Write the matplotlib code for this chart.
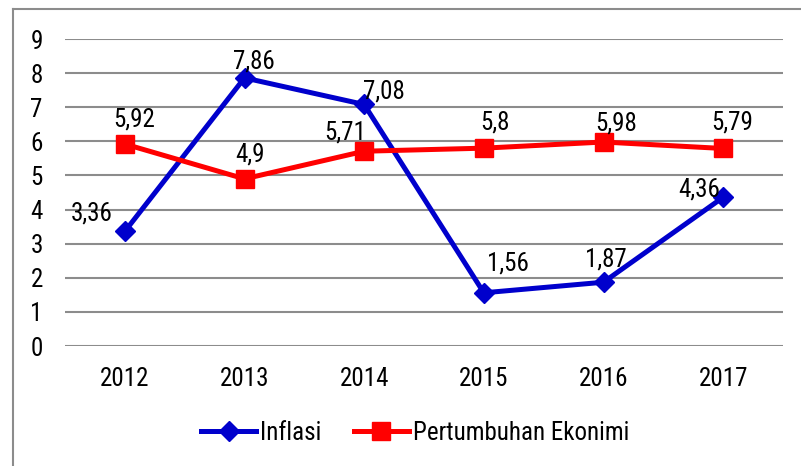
import matplotlib.pyplot as plt
from matplotlib.lines import Line2D
from matplotlib import font_manager

years = ["2012", "2013", "2014", "2015", "2016", "2017"]
inflasi = [3.36, 7.86, 7.08, 1.56, 1.87, 4.36]
pertumbuhan = [5.92, 4.90, 5.71, 5.80, 5.98, 5.79]
inflasi_labels = ["3,36", "7,86", "7,08", "1,56", "1,87", "4,36"]
pertumbuhan_labels = ["5,92", "4,9", "5,71", "5,8", "5,98", "5,79"]

# label offsets in points (dx, dy) relative to each marker
inflasi_off = [(-24, 13), (6.5, 11.5), (14, 9), (17, 21), (1.5, 16.5), (-17, 5.5)]
pertumbuhan_off = [(7, 17.5), (4, 17.5), (-14, 13.5), (8, 18.5), (9, 13.5), (6.5, 18.5)]

names = {f.name for f in font_manager.fontManager.ttflist}
family = ["Roboto Condensed", "Archivo Narrow", "Liberation Sans", "DejaVu Sans"]
family = [f for f in family if f in names] or ["DejaVu Sans"]
plt.rcParams["font.family"] = family

BLUE = "#0000CC"
RED = "#FF0000"
FS = 18

fig = plt.figure(figsize=(8.01, 4.66), dpi=100)
ax = fig.add_axes([65 / 801, 1 - 346 / 466, (783 - 65) / 801, (346 - 39) / 466])

x = range(len(years))
ax.plot(x, inflasi, color=BLUE, lw=3.6, marker="D", ms=10, mec=BLUE, mfc=BLUE,
        zorder=3, label="Inflasi")
ax.plot(x, pertumbuhan, color=RED, lw=3.6, marker="s", ms=13, mec=RED, mfc=RED,
        zorder=4, label="Pertumbuhan Ekonimi")

for i, (v, t) in enumerate(zip(inflasi, inflasi_labels)):
    ax.annotate(t, (i, v), xytext=inflasi_off[i], textcoords="offset points",
                ha="center", va="center", fontsize=FS, zorder=5)
for i, (v, t) in enumerate(zip(pertumbuhan, pertumbuhan_labels)):
    ax.annotate(t, (i, v), xytext=pertumbuhan_off[i], textcoords="offset points",
                ha="center", va="center", fontsize=FS, zorder=5)

ax.set_xlim(-0.5, len(years) - 0.5)
ax.set_ylim(0, 9)
ax.set_yticks(range(10))
ax.set_xticks(list(x))
ax.set_xticklabels(years)
ax.tick_params(axis="both", length=0, labelsize=FS)
ax.tick_params(axis="y", pad=16)
ax.tick_params(axis="x", pad=15)
ax.grid(axis="y", color="#8c8c8c", lw=1.5)
ax.set_axisbelow(True)
for s in ax.spines.values():
    s.set_visible(False)

handles = [
    Line2D([], [], color=BLUE, lw=3.6, marker="D", ms=10, mfc=BLUE, mec=BLUE),
    Line2D([], [], color=RED, lw=3.6, marker="s", ms=13, mfc=RED, mec=RED),
]
fig.legend(handles, ["Inflasi", "Pertumbuhan Ekonimi"], loc="center",
           bbox_to_anchor=(415 / 801, 1 - 433 / 466), ncol=2, frameon=False,
           fontsize=FS, handlelength=2.2, handletextpad=0.15, columnspacing=1.3)

# outer chart border (left and top edges visible)
fig.add_artist(Line2D([13 / 801, 13 / 801], [0, 1 - 9 / 466], color="#8c8c8c",
                      lw=1.5, transform=fig.transFigure))
fig.add_artist(Line2D([13 / 801, 1], [1 - 9 / 466, 1 - 9 / 466], color="#8c8c8c",
                      lw=1.5, transform=fig.transFigure))

fig.savefig("out.png", dpi=100)
